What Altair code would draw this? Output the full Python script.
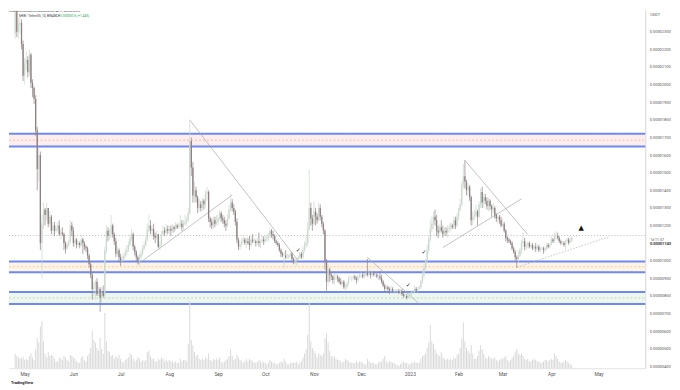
import altair as alt
import pandas as pd

FONT = "Roboto"
W, H = 643, 362

# ---- daily candles: (close, high, low) in units of 1e-8 USDT ----
first_open = 2290
apr22 = [(2410,2420,2260),(2300,2420,2270),(2340,2380,2260),(2350,2400,2290),(2230,2370,2200),(2050,2250,2020)]
may22 = [(2120,2150,2000),(2140,2190,2080),(2070,2160,2040),(2170,2200,2050),(2010,2180,1980),(1980,2030,1930),(1920,1990,1890),(1740,1940,1710),
         (1520,1760,1400),(1600,1640,1450),(1100,1620,1060),(1210,1260,900),
         (1290,1330,1180),(1260,1300,1200),(1300,1330,1230),(1210,1300,1190),(1250,1280,1200),(1170,1260,1150),(1200,1220,1140),(1170,1220,1140),(1180,1200,1160),(1200,1220,1170),
         (1150,1230,1140),(1160,1180,1120),(1150,1190,1140),(1100,1160,1060),(1070,1110,1040),(1090,1100,1060),(1110,1120,1080),(1200,1230,1100),(1170,1220,1140)]
jun22 = [(1100,1190,1080),(1120,1130,1080),(1090,1130,1070),(1100,1110,1080),(1090,1110,1070),(1120,1150,1080),(1100,1130,1040),(1080,1110,1060),(1070,1090,1050),(1030,1080,1010),
         (980,1040,960),(920,990,900),(840,930,780),(850,880,800),(880,890,780),(810,900,800),(840,860,800),(790,850,710),(820,850,760),(800,860,790),
         (1060,1080,790),(1170,1200,1040),(1140,1190,1110),(1150,1180,1120),(1200,1260,1130),(1150,1210,1130),(1110,1160,1090),(1040,1130,1020),(1060,1080,1030),(1020,1070,990)]
jul22 = [(1000,1040,970),(1010,1030,990),(1030,1040,1000),(1050,1070,1020),(1060,1090,1030),(1090,1110,1050),(1130,1150,1080),(1150,1180,1110),(1080,1160,1060),(1050,1090,1030),
         (1020,1060,1000),(1000,1030,980),(1020,1040,970),(1040,1060,1010),(1070,1090,1030),(1090,1110,1060),(1120,1140,1080),(1180,1210,1110),(1200,1260,1160),(1170,1230,1150),
         (1180,1200,1140),(1140,1210,1120),(1130,1160,1100),(1150,1170,1120),(1080,1150,1070),(1090,1110,1060),(1150,1170,1080),(1170,1200,1140),(1160,1190,1140),(1180,1210,1150),(1170,1200,1150)]
aug22 = [(1180,1200,1150),(1170,1200,1140),(1190,1210,1160),(1180,1200,1160),(1200,1220,1170),(1190,1210,1180),(1200,1220,1180),(1210,1260,1190),(1190,1230,1170),(1210,1230,1170),
         (1220,1260,1200),(1230,1250,1200),(1270,1300,1220),(1680,1800,1260),(1530,1700,1480),(1370,1560,1330),(1400,1450,1330),(1360,1420,1330),(1300,1370,1270),(1320,1350,1280),
         (1300,1340,1280),(1340,1360,1280),(1320,1350,1290),(1380,1400,1300),(1390,1420,1340),(1240,1400,1220),(1220,1250,1190),(1200,1240,1180),(1230,1250,1180),(1210,1250,1190),(1220,1260,1200)]
sep22 = [(1240,1260,1200),(1270,1290,1230),(1240,1280,1220),(1230,1260,1210),(1210,1250,1190),(1200,1230,1170),(1240,1260,1190),(1290,1320,1230),(1330,1380,1280),(1300,1350,1280),
         (1280,1320,1260),(1220,1290,1200),(1120,1240,1100),(1080,1130,1060),(1090,1110,1060),(1110,1130,1080),(1120,1140,1100),(1100,1130,1090),(1110,1130,1070),(1100,1130,1090),
         (1090,1140,1060),(1120,1140,1080),(1110,1150,1100),(1110,1130,1100),(1100,1120,1080),(1110,1130,1090),(1100,1160,1080),(1110,1120,1070),(1120,1140,1100),(1110,1140,1090)]
oct22 = [(1120,1140,1100),(1130,1150,1110),(1140,1160,1110),(1170,1190,1130),(1150,1180,1130),(1140,1170,1120),(1110,1150,1100),(1100,1120,1090),(1090,1110,1080),(1060,1100,1050),
         (1040,1070,1020),(1030,1050,1020),(1030,1050,960),(1020,1060,1010),(1020,1040,1010),(1030,1040,1010),(1040,1050,1020),(1010,1050,1000),(990,1020,980),(1000,1020,980),
         (1010,1020,970),(1020,1030,1000),(1040,1050,1010),(1020,1050,1010),(1060,1080,1010),(1090,1110,1050),(1100,1140,1070),(1180,1220,1080),(1300,1520,1170),(1240,1330,1200),(1210,1260,1170)]
nov22 = [(1280,1340,1200),(1250,1300,1200),(1230,1270,1210),(1300,1330,1220),(1250,1320,1230),(1210,1260,1190),(1170,1220,1150),(1000,1180,950),(880,1010,830),(950,980,860),
         (920,960,880),(910,930,890),(890,920,870),(910,930,860),(910,930,890),(900,920,880),(880,910,870),(870,900,860),(880,890,860),(850,890,840),
         (850,870,830),(870,880,840),(900,910,860),(900,920,890),(900,910,880),(910,920,890),(900,920,890),(890,910,870),(910,920,880),(920,930,900)]
dec22 = [(920,940,900),(910,930,900),(920,930,900),(930,940,910),(920,1010,910),(930,950,910),(920,940,900),(930,940,910),(920,940,910),(920,930,910),
         (910,930,900),(910,920,890),(900,940,890),(880,920,870),(860,890,850),(840,870,820),(850,860,830),(840,860,830),(830,850,810),(840,860,820),
         (830,850,820),(830,840,810),(830,840,820),(830,840,820),(820,840,810),(830,840,810),(810,840,800),(800,820,790),(800,810,790),(790,810,780),(800,810,790)]
jan23 = [(810,820,790),(820,830,800),(820,830,810),(840,860,820),(830,850,820),(840,850,820),(850,860,840),(880,890,840),(920,950,870),(960,980,900),
         (1000,1010,950),(1060,1090,990),(1120,1140,1040),(1180,1230,1110),(1210,1250,1160),(1250,1280,1180),(1230,1290,1200),(1170,1260,1140),(1160,1200,1130),(1190,1210,1150),
         (1170,1230,1160),(1150,1200,1130),(1170,1190,1140),(1160,1190,1140),(1180,1200,1130),(1190,1210,1160),(1200,1220,1170),(1190,1210,1180),(1230,1250,1180),(1200,1250,1180),(1250,1270,1190)]
feb23 = [(1290,1300,1230),(1320,1350,1280),(1430,1450,1310),(1480,1550,1410),(1450,1570,1410),(1400,1460,1370),(1420,1440,1370),(1360,1430,1340),(1230,1370,1200),(1250,1280,1200),
         (1260,1290,1230),(1280,1320,1250),(1250,1290,1200),(1320,1340,1240),(1390,1410,1300),(1330,1420,1300),(1360,1380,1300),(1340,1380,1320),(1310,1360,1290),(1340,1360,1280),
         (1310,1350,1290),(1290,1320,1250),(1300,1330,1270),(1260,1310,1240),(1240,1270,1220),(1250,1260,1210),(1230,1260,1210),(1200,1250,1190)]
mar23 = [(1210,1240,1190),(1170,1220,1160),(1130,1180,1110),(1120,1140,1100),(1110,1130,1100),(1100,1120,1090),(1070,1110,1060),(1050,1080,1040),(1020,1060,1000),(1010,1030,960),
         (1030,1060,990),(1060,1070,1020),(1100,1120,1040),(1110,1160,1080),(1080,1130,1060),(1090,1100,1060),(1100,1110,1070),(1080,1110,1070),(1090,1100,1070),(1070,1100,1060),
         (1080,1090,1060),(1070,1100,1050),(1080,1090,1060),(1060,1090,1050),(1070,1080,1050),(1070,1080,1060),(1060,1080,1040),(1070,1080,1050),(1090,1100,1060),(1080,1100,1070),(1090,1100,1070)]
apr23 = [(1120,1140,1090),(1110,1130,1100),(1140,1160,1100),(1140,1170,1120),(1130,1160,1120),(1110,1140,1100),(1100,1120,1090),(1100,1110,1090),(1090,1110,1080),(1110,1120,1060),
         (1120,1130,1100),(1100,1130,1090),(1110,1130,1100),(1130,1140,1110)]

# ---- daily volume (relative units) ----
v_apr22 = [22,18,16,15,14,17]
v_may22 = [12,14,12,18,22,16,12,28,45,38,62,70,40,22,16,24,18,20,18,14,10,10,16,14,12,18,16,12,10,20,18]
v_jun22 = [16,14,10,8,8,16,18,12,10,18,22,30,55,42,38,30,26,45,28,22,82,40,26,24,18,20,14,18,16,20]
v_jul22 = [14,10,8,12,14,16,22,20,14,10,12,16,14,10,12,10,12,24,26,18,14,14,10,10,14,12,16,14,10,12,10]
v_aug22 = [12,10,10,8,10,8,8,14,10,12,12,10,36,100,42,34,24,18,20,14,12,14,12,16,14,22,12,10,14,12,14]
v_sep22 = [12,16,10,8,10,12,14,18,28,18,12,14,20,16,12,10,8,10,14,10,14,12,10,8,8,10,12,10,8,10]
v_oct22 = [8,6,8,12,10,8,8,6,6,8,10,8,14,10,6,6,8,8,8,8,10,6,8,10,16,22,28,50,98,40,30]
v_nov22 = [26,22,16,22,20,18,22,44,52,38,26,18,16,18,14,12,12,10,8,10,14,12,10,8,8,8,8,10,8,10]
v_dec22 = [10,8,6,6,14,10,8,8,8,6,6,8,10,10,14,18,10,8,10,10,8,8,6,4,4,6,8,10,8,8,6]
v_jan23 = [6,8,8,10,8,8,8,14,18,20,22,30,38,64,40,36,28,22,20,18,24,16,14,12,14,12,14,12,16,14,20]
v_feb23 = [22,30,44,68,40,30,26,22,34,22,14,14,18,26,34,28,22,16,14,18,16,14,14,16,12,10,12,14]
v_mar23 = [14,16,18,12,10,12,16,18,24,28,22,20,22,18,14,12,14,10,10,12,14,12,10,10,8,8,10,12,12,10,12]
v_apr23 = [14,12,22,18,14,10,8,8,10,12,10,8,6,4]

segments = [("2022-04-25", apr22, v_apr22), ("2022-05-01", may22, v_may22), ("2022-06-01", jun22, v_jun22),
            ("2022-07-01", jul22, v_jul22), ("2022-08-01", aug22, v_aug22), ("2022-09-01", sep22, v_sep22),
            ("2022-10-01", oct22, v_oct22), ("2022-11-01", nov22, v_nov22), ("2022-12-01", dec22, v_dec22),
            ("2023-01-01", jan23, v_jan23), ("2023-02-01", feb23, v_feb23), ("2023-03-01", mar23, v_mar23),
            ("2023-04-01", apr23, v_apr23)]

# ---- horizontal zones (lower, upper) and current price ----
zone_lo = [1648, 935, 755]
zone_hi = [1721, 996, 822]
zone_fill = ["#fdeeee", "#fdf4e6", "#eef7ef"]
zone_mid = ["#f1aeae", "#f2c596", "#a9d6b0"]
last_price = [1143]

# ---- drawn trend lines (date, price) ----
trend_id = ["a", "a", "b", "b", "c", "c", "d", "d", "e", "e", "f", "f"]
trend_date = ["2022-08-14", "2022-10-22", "2022-07-12", "2022-09-10", "2022-12-05", "2023-01-07",
              "2023-02-05", "2023-03-17", "2023-01-22", "2023-03-13", "2023-03-10", "2023-05-08"]
trend_price = [1800, 1000, 980, 1373, 1019, 755, 1570, 1148, 1075, 1351, 963, 1137]
trend_dash = [0, 0, 0, 0, 0, 0, 0, 0, 0, 0, 1, 1]

check_date = ["2022-10-22", "2022-12-31", "2023-01-10"]
check_price = [1060, 862, 1047]
flag_date = ["2023-04-20"]
flag_price = [1188]

month_ticks = ["2022-05-01", "2022-06-01", "2022-07-01", "2022-08-01", "2022-09-01", "2022-10-01",
               "2022-11-01", "2022-12-01", "2023-01-01", "2023-02-01", "2023-03-01", "2023-04-01", "2023-05-01"]
price_ticks = list(range(400, 2400, 100))


def ms(s):
    return int(pd.Timestamp(s).value // 10**6)


rows = []
prev = first_open
for start, seg, vols in segments:
    d0 = pd.Timestamp(start)
    for i, ((c, h, l), v) in enumerate(zip(seg, vols)):
        t = d0 + pd.Timedelta(days=i)
        rows.append(dict(t=int(t.value // 10**6), o=prev * 1e-8, c=c * 1e-8,
                         h=max(h, c, prev) * 1e-8, l=min(l, c, prev) * 1e-8,
                         vol=v, dir="up" if c >= prev else "down"))
        prev = c
df = pd.DataFrame(rows)

DAY = 86400000
x0 = ms("2022-05-01") - int(6.815 * DAY)
x1 = x0 + int(W / 1.614 * DAY)
xs = alt.Scale(domain=[x0, x1], nice=False, zero=False)
ys = alt.Scale(domain=[389.9e-8, 2423.6e-8], nice=False, zero=False)

xaxis = alt.Axis(values=[ms(s) for s in month_ticks], title=None, grid=False, ticks=False,
                 labelExpr="utcFormat(datum.value,'%m')=='01' ? utcFormat(datum.value,'%Y') : utcFormat(datum.value,'%b')",
                 labelFontSize=5, labelColor="#555", labelFont=FONT, domainColor="#e3e3e3", labelPadding=3)
yaxis = alt.Axis(values=[p * 1e-8 for p in price_ticks], title=None, grid=False, ticks=False, orient="right",
                 labelExpr="format(datum.value, '.8f')", labelFontSize=4, labelColor="#555", labelFont=FONT,
                 domainColor="#d6d6d6", labelPadding=4, labelOverlap=False, labelBound=False, labelFlush=False)


def X(f="t:Q"):
    return alt.X(f, scale=xs, axis=xaxis)


def Y(f, axis=yaxis):
    return alt.Y(f, scale=ys, axis=axis)


zones = pd.DataFrame({"lo": [v * 1e-8 for v in zone_lo], "hi": [v * 1e-8 for v in zone_hi],
                      "fill": zone_fill, "mid": zone_mid})
zones["m"] = (zones["lo"] + zones["hi"]) / 2
bounds = pd.DataFrame({"p": zones["lo"].tolist() + zones["hi"].tolist()})

zone_rect = alt.Chart(zones).mark_rect().encode(
    x=alt.value(0), x2=alt.value(W), y=Y("lo:Q", None), y2="hi:Q", color=alt.Color("fill:N", scale=None))
zone_midline = alt.Chart(zones).mark_rule(strokeDash=[2, 2], strokeWidth=0.8).encode(
    x=alt.value(0), x2=alt.value(W), y=Y("m:Q", None), color=alt.Color("mid:N", scale=None))
zone_lines = alt.Chart(bounds).mark_rule(color="#6f88f2", strokeWidth=2).encode(
    x=alt.value(0), x2=alt.value(W), y=Y("p:Q", None))
background = alt.layer(zone_rect, zone_midline, zone_lines)

vol = alt.Chart(df).mark_bar(size=1, color="#d9d9d9").encode(
    x=X(), y=alt.Y("vol:Q", scale=alt.Scale(domain=[0, 532], nice=False), axis=None))

price_line = alt.Chart(pd.DataFrame({"p": [v * 1e-8 for v in last_price]})).mark_rule(
    color="#a9a9a9", strokeDash=[1, 2], strokeWidth=0.8).encode(x=alt.value(0), x2=alt.value(W), y=Y("p:Q"))

tr = pd.DataFrame({"id": trend_id, "t": [ms(s) for s in trend_date],
                   "p": [v * 1e-8 for v in trend_price], "dash": trend_dash})
trend_solid = alt.Chart(tr[tr.dash == 0]).mark_line(color="#a8a8a8", strokeWidth=0.7).encode(
    x=X(), y=Y("p:Q"), detail="id:N")
trend_dot = alt.Chart(tr[tr.dash == 1]).mark_line(color="#b0b0b0", strokeWidth=0.7, strokeDash=[1.5, 1.5]).encode(
    x=X(), y=Y("p:Q"), detail="id:N")

color_wick = alt.Color("dir:N", scale=alt.Scale(domain=["up", "down"], range=["#c9d8cd", "#8e8082"]), legend=None)
color_body = alt.Color("dir:N", scale=alt.Scale(domain=["up", "down"], range=["#bfd6c5", "#5c4a4e"]), legend=None)
wicks = alt.Chart(df).mark_rule(strokeWidth=0.7).encode(x=X(), y=Y("l:Q"), y2="h:Q", color=color_wick)
bodies = alt.Chart(df).mark_bar(size=1.3).encode(x=X(), y=Y("o:Q"), y2="c:Q", color=color_body)

chk = pd.DataFrame({"t": [ms(s) for s in check_date], "p": [v * 1e-8 for v in check_price], "s": ["✓"] * 3})
checks = alt.Chart(chk).mark_text(fontSize=6, fontWeight="bold", color="#222", font="DejaVu Sans").encode(
    x=X(), y=Y("p:Q"), text="s:N")
flg = pd.DataFrame({"t": [ms(s) for s in flag_date], "p": [v * 1e-8 for v in flag_price], "s": ["▲"]})
flag = alt.Chart(flg).mark_text(fontSize=7, color="#111", font="DejaVu Sans").encode(
    x=X(), y=Y("p:Q"), text="s:N")


def label(s, x, y, size=5, color="#444", weight="normal", align="left"):
    return alt.Chart(pd.DataFrame({"s": [s]})).mark_text(
        fontSize=size, color=color, fontWeight=weight, align=align, baseline="middle", font=FONT).encode(
        x=alt.value(x), y=alt.value(y), text="s:N")


texts = alt.layer(
    label("CryptoPanel published on TradingView.com, Apr 14, 2023 09:48 UTC", 0, 1.5, 2.4, "#333"),
    label("SHIB / TetherUS, 1D, BINANCE", 10, 6, 3.1, "#333"),
    label("+0.00000016 (+1.44%)", 50, 6, 3.1, "#26a65b"),
    label("USDT", W + 5, 5, 4, "#555"),
    label("1d 11:57", W + 5, 232, 3.6, "#555"),
    label("0.00001143", W + 5, 236.5, 4, "#333"),
    label("TradingView", 2, H + 15, 4, "#222", "bold"),
)

front = alt.layer(price_line, trend_solid, trend_dot, wicks, bodies, checks, flag)

chart = alt.layer(background, vol, front, texts).resolve_scale(y="independent").properties(
    width=W, height=H, padding=0, background="white"
).configure_view(stroke=None)

chart.save("out.html", embed_options={"renderer": "svg", "actions": False})
